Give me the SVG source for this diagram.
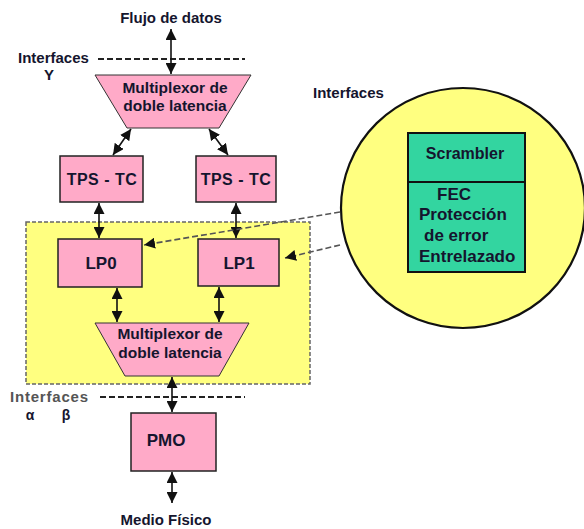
<svg xmlns="http://www.w3.org/2000/svg" width="584" height="529" viewBox="0 0 584 529">
<style>
text{font-family:"Liberation Sans",Arial,sans-serif;font-weight:bold;fill:#15152e}
.pink{fill:#ffaac8;stroke:#222;stroke-width:1.5}
.trap{fill:#ffaac8;stroke:#333;stroke-width:1}
.arr{stroke:#111;stroke-width:1.6;fill:none;marker-start:url(#ah);marker-end:url(#ah)}
.iface{stroke:#222;stroke-width:2;stroke-dasharray:6,3;fill:none}
.dash{stroke:#555;stroke-width:1.6;stroke-dasharray:6,3;fill:none;marker-end:url(#ah2)}
</style>
<defs>
<marker id="ah" viewBox="0 0 10 10" refX="10" refY="5" markerWidth="11" markerHeight="11" markerUnits="userSpaceOnUse" orient="auto-start-reverse">
<path d="M0,0 L10,5 L0,10 z" fill="#111"/>
</marker>
<marker id="ah2" viewBox="0 0 10 10" refX="10" refY="5" markerWidth="11" markerHeight="11" markerUnits="userSpaceOnUse" orient="auto">
<path d="M0,0 L10,5 L0,10 z" fill="#111"/>
</marker>
</defs>
<rect width="584" height="529" fill="#fff"/>

<!-- labels -->
<text x="171" y="23" font-size="15" text-anchor="middle">Flujo de datos</text>
<text x="18" y="63" font-size="15">Interfaces</text>
<text x="49" y="80" font-size="15" text-anchor="middle">Y</text>
<text x="313" y="98" font-size="15">Interfaces</text>
<text x="10" y="402" font-size="15" style="fill:#555;letter-spacing:0.8px">Interfaces</text>
<text x="30" y="420" font-size="14" text-anchor="middle">α</text>
<text x="66" y="420" font-size="14" text-anchor="middle">β</text>
<text x="166" y="525" font-size="15" text-anchor="middle">Medio Físico</text>

<g id="yellow-region">
<rect x="26" y="222" width="284" height="162" fill="#ffff80" stroke="#666" stroke-width="1.5" stroke-dasharray="4,2"/>
</g>

<g id="interface-lines">
<line class="iface" x1="98" y1="59" x2="245" y2="59"/>
<line class="iface" x1="100" y1="397" x2="245" y2="397"/>
</g>

<g id="mux-top">
<polygon class="trap" points="95,75 251,75 219,128 127,128"/>
<text x="175" y="93" font-size="15.5" text-anchor="middle">Multiplexor de</text>
<text x="175" y="111" font-size="15.5" text-anchor="middle">doble latencia</text>
</g>

<g id="tps-tc-left">
<rect class="pink" x="60" y="156" width="83" height="46"/>
<text x="102" y="185" font-size="16" text-anchor="middle" style="letter-spacing:0.5px">TPS - TC</text>
</g>
<g id="tps-tc-right">
<rect class="pink" x="196" y="156" width="80" height="46"/>
<text x="236" y="185" font-size="16" text-anchor="middle" style="letter-spacing:0.5px">TPS - TC</text>
</g>

<g id="lp0">
<rect class="pink" x="58" y="239" width="84" height="48"/>
<text x="101" y="269" font-size="17" text-anchor="middle">LP0</text>
</g>
<g id="lp1">
<rect class="pink" x="198" y="239" width="81" height="47"/>
<text x="239" y="269" font-size="17" text-anchor="middle">LP1</text>
</g>

<g id="mux-bottom">
<polygon class="trap" points="95,323 249,323 219,376 125,376"/>
<text x="170" y="339" font-size="15.5" text-anchor="middle">Multiplexor de</text>
<text x="170" y="358" font-size="15.5" text-anchor="middle">doble latencia</text>
</g>

<g id="pmo">
<rect class="pink" x="131" y="413" width="85" height="58"/>
<text x="166" y="446" font-size="17" text-anchor="middle">PMO</text>
</g>

<g id="detail-circle">
<ellipse cx="463" cy="208" rx="122" ry="120" fill="#ffff80" stroke="#111" stroke-width="2.2"/>
<rect x="408" y="133" width="117" height="139" fill="#33d5a0" stroke="#111" stroke-width="2"/>
<line x1="408" y1="182" x2="525" y2="182" stroke="#111" stroke-width="2"/>
<text x="465" y="159" font-size="16" text-anchor="middle">Scrambler</text>
<text x="437" y="200" font-size="17">FEC</text>
<text x="419" y="220" font-size="17">Protección</text>
<text x="424" y="241" font-size="17">de error</text>
<text x="419" y="262" font-size="17">Entrelazado</text>
</g>

<g id="connectors">
<line class="arr" x1="171" y1="29" x2="171" y2="74"/>
<line class="arr" x1="131" y1="129" x2="113" y2="155"/>
<line class="arr" x1="209" y1="129" x2="228" y2="155"/>
<line class="arr" x1="99" y1="203" x2="99" y2="238"/>
<line class="arr" x1="236" y1="203" x2="236" y2="238"/>
<line class="arr" x1="117" y1="288" x2="117" y2="322"/>
<line class="arr" x1="219" y1="287" x2="219" y2="322"/>
<line class="arr" x1="172" y1="377" x2="172" y2="412"/>
<line class="arr" x1="172" y1="472" x2="172" y2="503"/>
<line class="dash" x1="340" y1="212" x2="144" y2="245"/>
<line class="dash" x1="340" y1="245" x2="285" y2="258"/>
</g>
</svg>
